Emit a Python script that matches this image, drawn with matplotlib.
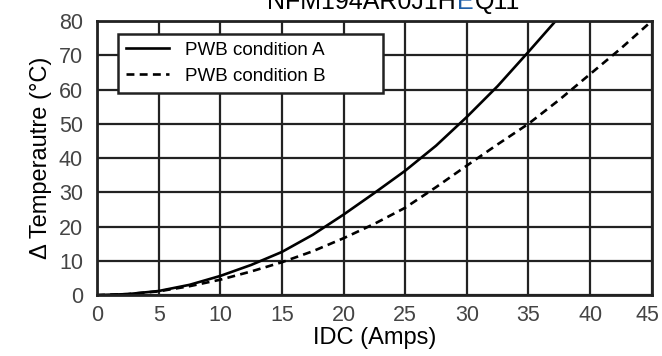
import matplotlib
matplotlib.use("Agg")
import matplotlib.pyplot as plt
import matplotlib.transforms as mtransforms
from matplotlib.lines import Line2D

plt.rcParams["font.family"] = ["Liberation Sans", "DejaVu Sans"]

current_a = [0, 2.5, 5, 7.5, 10, 12.5, 15, 17.5, 20, 22.5, 25, 27.5, 30, 32.5, 35, 37.2]
temp_a = [0, 0.3, 1.2, 3.0, 5.6, 8.8, 12.6, 17.6, 23.5, 29.8, 36.3, 43.6, 52, 61, 71, 80]
current_b = [0, 2.5, 5, 7.5, 10, 12.5, 15, 17.5, 20, 22.5, 25, 27.5, 30, 32.5, 35, 37.5, 40, 42.5, 45]
temp_b = [0, 0.3, 1.1, 2.6, 4.5, 6.9, 9.6, 12.8, 16.6, 20.8, 25.5, 31.5, 37.8, 44, 50, 57, 64.5, 72, 80]

x_ticks = list(range(0, 46, 5))
y_ticks = list(range(0, 81, 10))
labels = ["PWB condition A", "PWB condition B"]

fig = plt.figure(figsize=(6.62, 3.56), dpi=100)
ax = fig.add_axes([0.1465, 0.171, 0.838, 0.770])

ax.plot(current_a, temp_a, color="black", lw=1.9)
ax.plot(current_b, temp_b, color="black", lw=1.9, ls=(0, (3.0, 2.0)))

ax.set_xlim(0, 45)
ax.set_ylim(0, 80)
ax.set_xticks(x_ticks)
ax.set_yticks(y_ticks)
ax.grid(True, color="#222222", lw=1.6)
ax.set_axisbelow(True)
for spine in ax.spines.values():
    spine.set_linewidth(2)
    spine.set_color("#222222")
ax.tick_params(axis="both", length=0, labelsize=15.5, labelcolor="#444444")
ax.tick_params(axis="x", pad=7)
ax.tick_params(axis="y", pad=10)

# keep the last x label inside the canvas
last = ax.get_xticklabels()[-1]
last.set_transform(last.get_transform() + mtransforms.ScaledTranslation(-4 / 100, 0, fig.dpi_scale_trans))

ax.set_xlabel("IDC (Amps)", fontsize=17, labelpad=1)
ax.set_ylabel("\u0394 Temperautre (\u00b0C)", fontsize=17, labelpad=5)

handles = [
    Line2D([], [], color="black", lw=1.9),
    Line2D([], [], color="black", lw=1.9, ls=(0, (3.0, 2.0))),
]
leg = ax.legend(
    handles, labels,
    loc="upper left", bbox_to_anchor=(0.038, 0.719, 0.477, 0.234), mode="expand",
    borderaxespad=0, fancybox=False, framealpha=1, edgecolor="#222222",
    fontsize=13.5, handlelength=2.3, handletextpad=0.85, labelspacing=0.5,
    borderpad=0.4,
)
leg.get_frame().set_linewidth(1.8)

# title is clipped at the top edge in the reference
title_y = 1 - 9 / 356
fig.text(456 / 662, title_y, "NFM194AR0J1H", fontsize=18, ha="right", va="baseline")
fig.text(457 / 662, title_y, "E", fontsize=18, ha="left", va="baseline", color="#1f5fa8")
fig.text(475 / 662, title_y, "Q11", fontsize=18, ha="left", va="baseline")

fig.savefig("out.png", dpi=100)
